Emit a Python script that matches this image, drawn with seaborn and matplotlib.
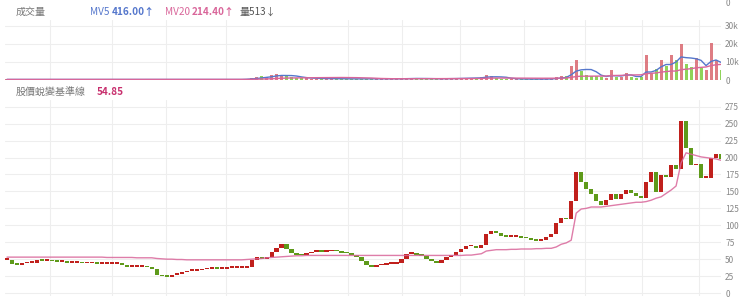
import numpy as np
import pandas as pd
import matplotlib
matplotlib.use("Agg")
import matplotlib.pyplot as plt
import seaborn as sns

# ---- data ----
close = [50, 44, 43, 45, 46, 46, 50, 49, 49, 48, 47, 47, 46, 46, 46, 45, 45, 45, 44, 44,
         44, 44, 44, 43, 40, 40, 40, 40, 39, 37, 28, 26, 25, 28, 30, 32, 34, 34, 35, 36,
         37, 38, 37, 37, 38, 38, 38, 38, 39, 50, 54, 52, 55, 62, 68, 74, 66, 60, 58, 57,
         60, 62, 63, 62, 63, 64, 63, 61, 60, 57, 54, 48, 43, 40, 42, 43, 44, 44, 46, 52,
         59, 60, 58, 56, 52, 48, 46, 50, 54, 57, 62, 66, 70, 71, 68, 72, 88, 93, 90, 86,
         84, 84, 84, 83, 82, 80, 78, 80, 84, 88, 105, 112, 110, 137, 180, 165, 155, 147, 137, 131,
         138, 148, 140, 148, 153, 149, 145, 141, 165, 180, 151, 175, 172, 190, 185, 255, 216, 190, 192, 171,
         171, 200, 206, 199]

baseline = [53, 53, 53, 53, 53, 53, 53, 53, 53, 53, 53, 53, 53, 53, 53, 53, 53, 53, 53, 53,
            52.5, 52.5, 52.5, 52.5, 52.5, 52.5, 52, 52, 52, 52, 51, 50.5, 50, 50, 49.5, 49.5, 49, 49, 49, 49,
            49, 49, 49, 49, 49, 49, 49, 49, 49.5, 50, 50.5, 51, 52, 52.5, 53, 53.5, 54, 54.5, 55, 55,
            55.5, 55.5, 55.5, 55.5, 55.5, 55.5, 55.5, 55.5, 55.5, 55.5, 55.5, 55.5, 55.5, 55.5, 55.5, 55.5, 55.5, 55.5, 55.5, 55.5,
            55.5, 55.5, 55.5, 55.5, 55.5, 55.5, 55.5, 55.5, 55.5, 55.5, 55.5, 55.5, 56, 56, 57, 58, 62, 63, 64, 64,
            64, 64.5, 64.5, 65, 65, 65, 65.5, 65.5, 66, 66, 68, 72, 74, 78, 118, 124, 125, 127, 127, 127,
            128, 129, 130, 131, 132, 133, 134, 134, 135, 137, 140, 142, 147, 152, 158, 192, 207, 205, 203, 201,
            200, 199, 198, 196]

volume_k = [0.3, 0.3, 0.3, 0.3, 0.3, 0.3, 0.5, 0.3, 0.3, 0.3, 0.3, 0.3, 0.3, 0.3, 0.3, 0.3, 0.3, 0.3, 0.3, 0.3,
            0.3, 0.3, 0.3, 0.3, 0.4, 0.3, 0.3, 0.3, 0.3, 0.3, 0.5, 0.4, 0.3, 0.3, 0.3, 0.3, 0.3, 0.3, 0.3, 0.3,
            0.3, 0.3, 0.3, 0.3, 0.3, 0.3, 0.3, 0.3, 0.8, 1.2, 1.5, 2.0, 1.8, 2.5, 3.5, 2.8, 2.0, 1.5, 1.2, 1.0,
            0.9, 0.8, 0.8, 0.7, 0.7, 0.7, 0.7, 0.6, 0.6, 0.6, 0.6, 0.7, 0.8, 0.7, 0.6, 0.6, 0.6, 0.6, 0.7, 0.9,
            1.0, 0.9, 0.8, 0.7, 0.7, 0.7, 0.6, 0.7, 0.8, 0.9, 1.0, 1.0, 1.2, 1.0, 1.2, 1.5, 3.0, 2.0, 1.2, 0.8,
            0.6, 0.5, 0.5, 0.5, 0.5, 0.5, 0.5, 0.5, 0.6, 0.8, 1.5, 2.0, 2.2, 8.0, 11.0, 5.0, 3.0, 2.0, 2.0, 1.5,
            1.2, 5.5, 1.5, 1.5, 4.0, 1.5, 1.2, 1.5, 14.0, 4.0, 6.0, 11.0, 8.0, 14.0, 11.0, 20.0, 9.0, 7.0, 12.0, 6.5,
            5.5, 20.5, 11.0, 5.5]

price_ticks = [0, 25, 50, 75, 100, 125, 150, 175, 200, 225, 250, 275]
vol_ticks = [0, 10, 20, 30]
vol_tick_labels = ["0", "10k", "20k", "30k"]
grid_days = [8.6, 21, 31.8, 43.8, 68.2, 79.2, 90.8, 103.6, 115.8, 127.2, 138.6]

# ---- derived frame ----
n = len(close)
df = pd.DataFrame({"day": np.arange(n), "close": close, "baseline": baseline,
                   "volume": volume_k})
df["open"] = df["close"].shift(1).fillna(df["close"])
df["up"] = df["close"] >= df["open"]
df["mv5"] = df["volume"].rolling(5, min_periods=1).mean()
df["mv20"] = df["volume"].rolling(20, min_periods=1).mean()

sns.set_theme(style="white")
plt.rcParams["font.family"] = ["Noto Sans CJK TC", "DejaVu Sans"]

W, H = 740, 299
fig = plt.figure(figsize=(W / 100, H / 100), dpi=100)

def box(x0, y0, x1, y1):
    return [x0 / W, 1 - y1 / H, (x1 - x0) / W, (y1 - y0) / H]

RED = "#c0201c"
GREEN = "#5e9a1a"
PINK = "#d9669a"
BLUE = "#5577cc"
GRID = "#eeeeee"
TXT = "#777777"

xlim = (-0.4, 143.0)

# ---- volume panel ----
axv = fig.add_axes(box(5, 20, 721, 80))
vcol = np.where(df["up"], "#d9666e", "#7ccc3c")
axv.bar(df["day"], df["volume"], width=0.6, color=vcol, alpha=0.85, linewidth=0)
sns.lineplot(data=df, x="day", y="mv5", ax=axv, color=BLUE, lw=1.0)
sns.lineplot(data=df, x="day", y="mv20", ax=axv, color=PINK, lw=1.0)
axv.set_ylim(0, 33.3)
axv.set_xlim(*xlim)

# ---- price panel ----
axp = fig.add_axes(box(5, 100, 721, 296))
bottoms = np.minimum(df["open"], df["close"])
heights = np.maximum(np.abs(df["close"] - df["open"]), 2.4)
ccol = np.where(df["up"], RED, GREEN)
axp.bar(df["day"], heights, bottom=bottoms - 1.2, width=0.85, color=ccol, linewidth=0)
sns.lineplot(data=df, x="day", y="baseline", ax=axp, color=PINK, lw=1.0, alpha=0.85)
axp.set_ylim(-4.4, 285)
axp.set_xlim(*xlim)

for ax, ticks, labels in [(axv, vol_ticks, vol_tick_labels),
                          (axp, price_ticks, [str(t) for t in price_ticks])]:
    ax.set_xlabel("")
    ax.set_ylabel("")
    ax.set_xticks([])
    for s in ax.spines.values():
        s.set_visible(False)
    ax.yaxis.tick_right()
    ax.set_yticks(ticks)
    ax.set_yticklabels(labels)
    ax.tick_params(axis="y", length=0, pad=3, labelsize=6, labelcolor="#888888")
    for t in ticks:
        ax.axhline(t, color=GRID, lw=0.8, zorder=0)
    for g in grid_days:
        ax.axvline(g, color=GRID, lw=0.8, zorder=0)
    ax.set_facecolor("white")

# ---- header texts ----
def ftxt(x, y, s, size=7.2, **kw):
    fig.text(x / W, 1 - y / H, s, va="center", ha="left", fontsize=size, **kw)

ftxt(16, 12, "成交量", color=TXT)
ftxt(90, 12, "MV5", color=BLUE)
ftxt(112, 12, "416.00↑", color=BLUE, fontweight="bold")
ftxt(165, 12, "MV20", color=PINK)
ftxt(192, 12, "214.40↑", color=PINK, fontweight="bold")
ftxt(240, 12, "量513↓", color="#555555")
ftxt(726, 3, "0", size=6, color="#888888")
ftxt(16, 92, "股價蛻變基準線", color=TXT)
ftxt(97, 92, "54.85", color="#c8306e", fontweight="bold")

fig.savefig("out.png", dpi=100, facecolor="white")
